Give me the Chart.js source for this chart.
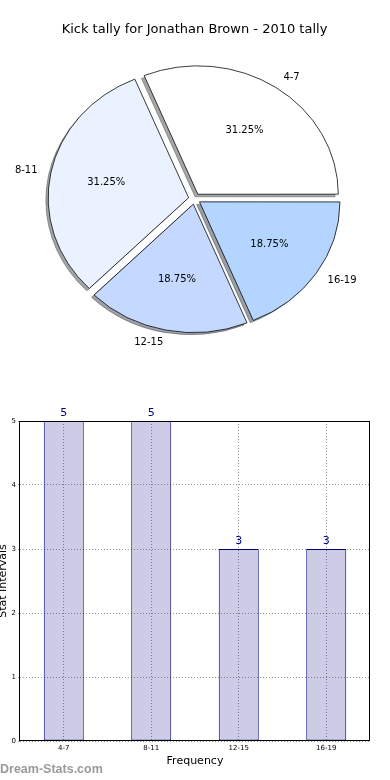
<!DOCTYPE html>
<html>
<head>
<meta charset="utf-8">
<script src="https://cdn.jsdelivr.net/npm/chart.js@4.4.0/dist/chart.umd.min.js"></script>
<style>
    html, body { margin: 0; padding: 0; background: #fff; }
    body { width: 390px; height: 780px; position: relative; overflow: hidden; }
    #pie-chart { position: absolute; left: 0; top: 0; }
    #bar-chart { position: absolute; left: 0; top: 390px; }
    #mark { position: absolute; left: 0; top: 762px; font: bold 12.5px "Liberation Sans", sans-serif; color: #9a9a9a; }
</style>
</head>
<body>
<canvas id="pie-chart" width="390" height="380"></canvas>
<canvas id="bar-chart" width="390" height="390"></canvas>
<div id="mark">Dream-Stats.com</div>
<script>
var categories = ['4-7', '8-11', '12-15', '16-19']
var kickCounts = [5, 5, 3, 3]
var sliceColors = ['#ffffff', '#ebf2ff', '#c5d8ff', '#b3d5ff']
var yTicks = [0, 1, 2, 3, 4, 5]

var total = kickCounts.reduce(function (a, b) { return a + b }, 0)

// the original pie runs counter-clockwise from 3 o'clock, chart.js goes clockwise,
// so the slices are fed in reverse and started at 90deg
var pieLabels = categories.slice().reverse()
var pieValues = kickCounts.slice().reverse()
var pieColors = sliceColors.slice().reverse()

var squash = 128 / 140   // pie in the reference is a bit flattened
var explode = 24         // chart.js moves a slice by offset / 4

function shade(hex) {
    var n = parseInt(hex.slice(1), 16)
    var r = Math.round(((n >> 16) & 255) * 0.3)
    var g = Math.round(((n >> 8) & 255) * 0.3)
    var b = Math.round((n & 255) * 0.3)
    return 'rgba(' + r + ',' + g + ',' + b + ',0.5)'
}

var pieLook = {
    id: 'pieLook',
    beforeDatasetsDraw: function (chart) {
        var ctx = chart.ctx
        var arcs = chart.getDatasetMeta(0).data
        var cy = arcs[0].y
        ctx.save()
        ctx.translate(0, cy)
        ctx.scale(1, squash)
        ctx.translate(0, -cy)
        // drop shadows under every slice
        arcs.forEach(function (arc, i) {
            var mid = (arc.startAngle + arc.endAngle) / 2
            var x = arc.x + Math.cos(mid) * explode / 4 - 2.8
            var y = arc.y + Math.sin(mid) * explode / 4 + 2.8
            ctx.beginPath()
            ctx.moveTo(x, y)
            ctx.arc(x, y, arc.outerRadius, arc.startAngle, arc.endAngle)
            ctx.closePath()
            ctx.fillStyle = shade(pieColors[i])
            ctx.strokeStyle = shade(pieColors[i])
            ctx.lineWidth = 1
            ctx.fill()
            ctx.stroke()
        })
    },
    afterDatasetsDraw: function (chart) {
        var ctx = chart.ctx
        ctx.restore()
        var arcs = chart.getDatasetMeta(0).data
        var cy = arcs[0].y
        ctx.save()
        ctx.fillStyle = '#000'
        ctx.font = '10px "DejaVu Sans"'
        ctx.textBaseline = 'middle'
        arcs.forEach(function (arc, i) {
            var mid = (arc.startAngle + arc.endAngle) / 2
            var cos = Math.cos(mid)
            var sin = Math.sin(mid)
            var ex = arc.x + cos * explode / 4
            var ey = arc.y + sin * explode / 4
            var r = arc.outerRadius
            var at = function (d) {
                return [ex + cos * d, cy + (ey + sin * d - cy) * squash]
            }
            var p = at(0.6 * r)
            ctx.textAlign = 'center'
            ctx.fillText((pieValues[i] / total * 100).toFixed(2) + '%', p[0], p[1])
            var q = at(1.1 * r)
            ctx.textAlign = cos > 0 ? 'left' : 'right'
            ctx.fillText(pieLabels[i], q[0], q[1])
        })
        ctx.restore()
    }
}

new Chart(document.getElementById('pie-chart'), {
    type: 'pie',
    data: {
        labels: pieLabels,
        datasets: [{
            data: pieValues,
            backgroundColor: pieColors,
            borderColor: '#000',
            borderWidth: 0.8,
            borderJoinStyle: 'miter',
            offset: explode,
            radius: 140,
            clip: false
        }]
    },
    options: {
        responsive: false,
        animation: false,
        rotation: 90,
        layout: { padding: { left: 0, right: 1, top: 0, bottom: 30 } },
        plugins: {
            legend: { display: false },
            tooltip: { enabled: false },
            title: {
                display: true,
                text: 'Kick tally for Jonathan Brown - 2010 tally',
                color: '#000',
                font: { family: 'DejaVu Sans', size: 13, weight: 'normal' },
                padding: { top: 22, bottom: 10 }
            }
        }
    },
    plugins: [pieLook]
})

var barLook = {
    id: 'barLook',
    afterDraw: function (chart) {
        var ctx = chart.ctx
        var ca = chart.chartArea
        ctx.save()
        ctx.strokeStyle = '#000'
        ctx.lineWidth = 1
        ctx.strokeRect(Math.round(ca.left) - 0.5, Math.round(ca.top) + 0.5,
            Math.round(ca.right - ca.left), Math.round(ca.bottom - ca.top) - 1)
        var bars = chart.getDatasetMeta(0).data
        ctx.fillStyle = '#000080'
        ctx.font = '11px "DejaVu Sans"'
        ctx.textAlign = 'center'
        ctx.textBaseline = 'middle'
        bars.forEach(function (b, i) {
            ctx.fillText(kickCounts[i], b.x, b.y - 8)
        })
        ctx.restore()
    }
}

var gridStyle = { z: 1, color: 'rgba(0,0,0,0.4)', lineWidth: 1 }

new Chart(document.getElementById('bar-chart'), {
    type: 'bar',
    data: {
        labels: categories,
        datasets: [{
            data: kickCounts,
            backgroundColor: '#cccce6',
            borderColor: '#000080',
            borderWidth: 1,
            borderSkipped: false,
            barPercentage: 0.457,
            categoryPercentage: 1
        }]
    },
    options: {
        responsive: false,
        animation: false,
        layout: { padding: { left: 0, right: 20, top: 31, bottom: 0 } },
        plugins: {
            legend: { display: false },
            tooltip: { enabled: false }
        },
        scales: {
            x: {
                grid: Object.assign({ offset: false, drawTicks: false }, gridStyle),
                border: { display: false, dash: [1, 2] },
                ticks: { color: '#000', font: { family: 'DejaVu Sans', size: 7 }, padding: 3 },
                title: {
                    display: true,
                    text: 'Frequency',
                    color: '#000',
                    font: { family: 'DejaVu Sans', size: 11, weight: 'normal' },
                    padding: { top: 0, bottom: 12 }
                },
                afterFit: function (s) { s.height = 39 }
            },
            y: {
                min: 0,
                max: 5,
                grid: Object.assign({ drawTicks: true, tickLength: 2, tickColor: 'rgba(0,0,0,0.4)' }, gridStyle),
                border: { display: false, dash: [1, 2] },
                ticks: { color: '#000', font: { family: 'DejaVu Sans', size: 7 }, padding: 2 },
                afterBuildTicks: function (s) {
                    s.ticks = yTicks.map(function (v) { return { value: v } })
                },
                title: {
                    display: true,
                    text: 'Stat Intervals',
                    color: '#000',
                    font: { family: 'DejaVu Sans', size: 11, weight: 'normal' },
                    padding: { top: -3, bottom: 0 }
                },
                afterFit: function (s) { s.width = 20 }
            }
        }
    },
    plugins: [barLook]
})
</script>
</body>
</html>
